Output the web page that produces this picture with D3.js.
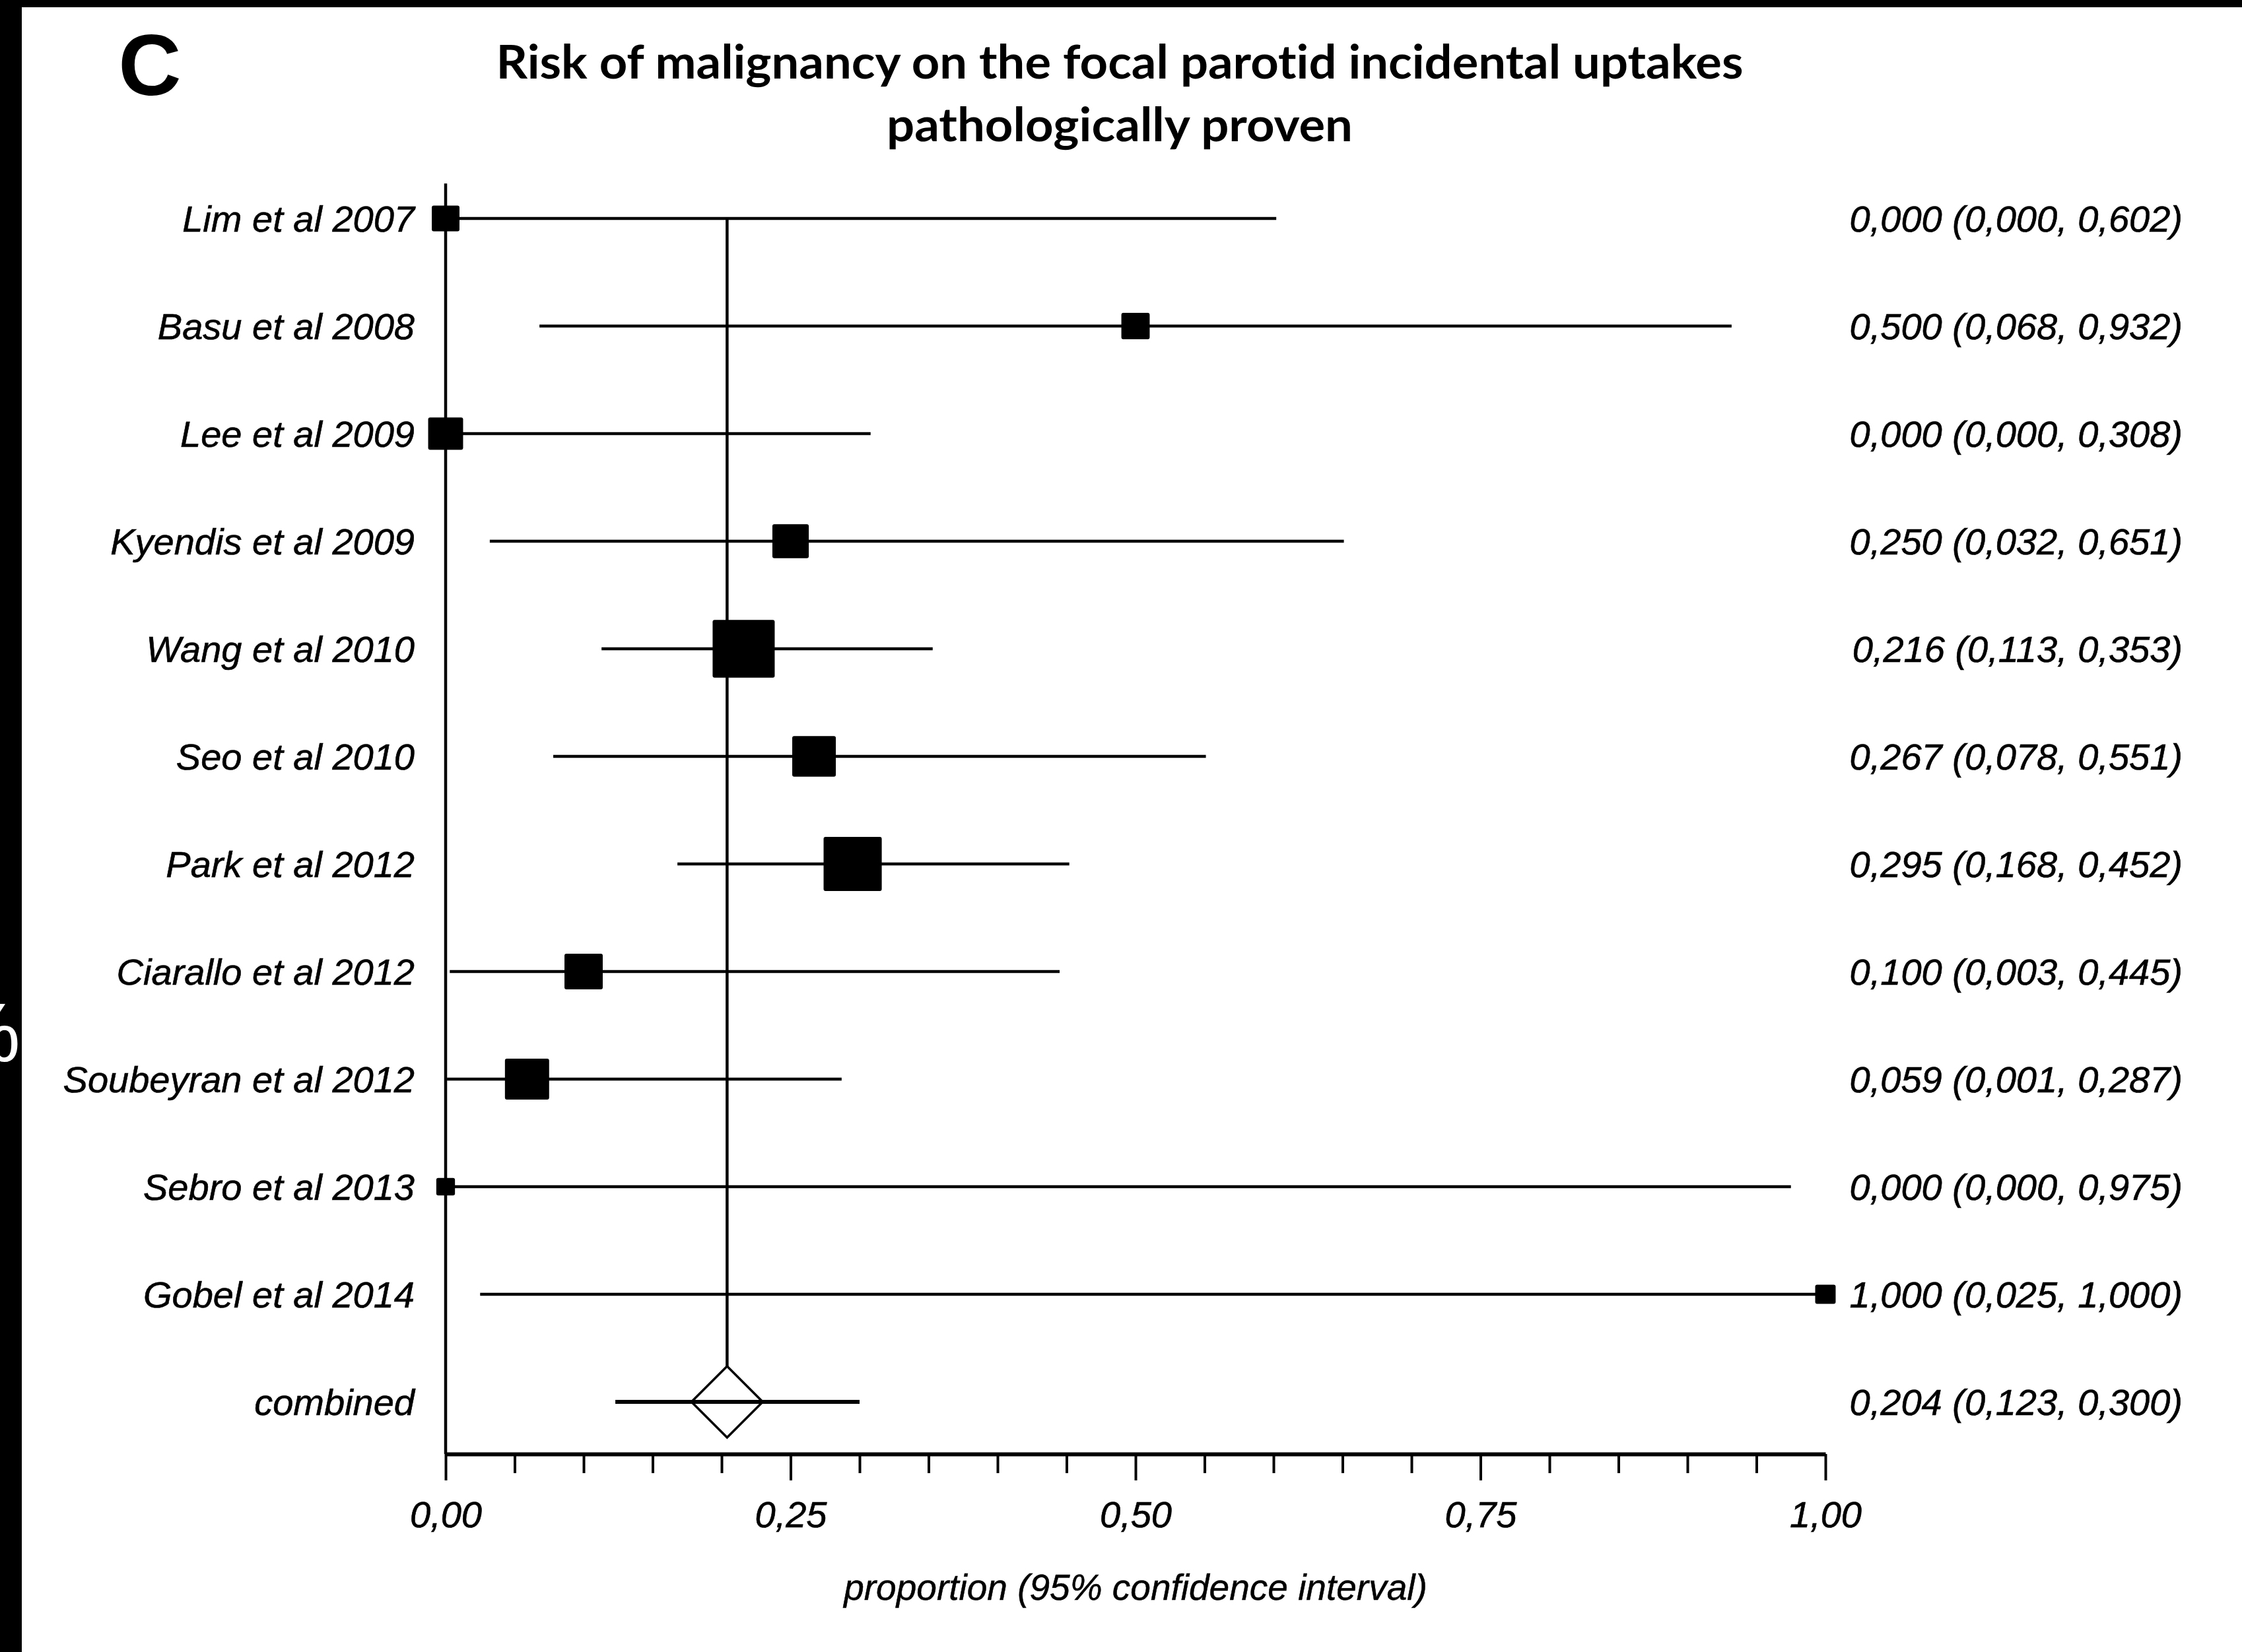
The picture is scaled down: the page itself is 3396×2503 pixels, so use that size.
<!DOCTYPE html>
<html>
<head>
<meta charset="utf-8">
<script src="https://cdn.jsdelivr.net/npm/d3@7"></script>
<style>
  html, body { margin: 0; padding: 0; background: #fff; }
  svg { display: block; }
  text { font-variant-ligatures: none; font-feature-settings: "liga" 0, "clig" 0; }
</style>
</head>
<body>
<script>
// ---------------- data ----------------
const studies = ["Lim et al 2007", "Basu et al 2008", "Lee et al 2009", "Kyendis et al 2009",
  "Wang et al 2010", "Seo et al 2010", "Park et al 2012", "Ciarallo et al 2012",
  "Soubeyran et al 2012", "Sebro et al 2013", "Gobel et al 2014"];
const estimates = [0.000, 0.500, 0.000, 0.250, 0.216, 0.267, 0.295, 0.100, 0.059, 0.000, 1.000];
const lowerCI   = [0.000, 0.068, 0.000, 0.032, 0.113, 0.078, 0.168, 0.003, 0.001, 0.000, 0.025];
const upperCI   = [0.602, 0.932, 0.308, 0.651, 0.353, 0.551, 0.452, 0.445, 0.287, 0.975, 1.000];
const weights   = [4.4, 4.6, 7.0, 7.6, 22.1, 10.9, 19.4, 8.4, 11.2, 2.0, 2.4]; // relative weight (%)
const pooledLabel = "combined";
const pooled = [0.204, 0.123, 0.300]; // estimate, lower, upper
const majorTicks = [0, 0.25, 0.5, 0.75, 1];
const majorTickLabels = ["0,00", "0,25", "0,50", "0,75", "1,00"];
const minorStep = 0.05;
const panelLetter = "C";
const titleLines = ["Risk of malignancy on the focal parotid incidental uptakes", "pathologically proven"];
const xAxisTitle = "proportion (95% confidence interval)";

// ---------------- layout ----------------
const W = 3396, H = 2503;
const svg = d3.select("body").append("svg").attr("width", W).attr("height", H);
svg.append("rect").attr("width", W).attr("height", H).attr("fill", "#fff");

const rows = studies.concat([pooledLabel]);
const x = d3.scaleLinear().domain([0, 1]).range([675, 2765]);
const y = d3.scalePoint().domain(rows).range([331, 2124]).padding(0);
const size = d3.scaleSqrt().domain([0, 25]).range([0, 100]);
const axisY = 2203;
const fmt = v => d3.format(".3f")(v).replace(".", ",");

const labelFont = "'Liberation Sans', Arial, sans-serif";

// black frame pieces (scan border)
svg.append("rect").attr("x", 0).attr("y", 0).attr("width", W).attr("height", 11).attr("fill", "#000");
svg.append("rect").attr("x", 0).attr("y", 0).attr("width", 33).attr("height", H).attr("fill", "#000");
// fragment of neighbouring panel text in the black strip
const defs = svg.append("defs");
defs.append("clipPath").attr("id", "stripClip").append("rect")
  .attr("x", 0).attr("y", 0).attr("width", 33).attr("height", H);
svg.append("text").attr("clip-path", "url(#stripClip)")
  .attr("x", 31).attr("y", 1608).attr("text-anchor", "end")
  .attr("font-family", labelFont).attr("font-size", 127).attr("fill", "#fff")
  .text("%");

// panel letter
svg.append("text").attr("x", 227).attr("y", 144).attr("text-anchor", "middle")
  .attr("font-family", labelFont).attr("font-weight", "bold").attr("font-size", 132)
  .attr("fill", "#000").text(panelLetter);

// title
const titleWidths = [1889, 706];
const titleBase = [119, 214];
titleLines.forEach((t, i) => {
  svg.append("text").attr("x", 1696).attr("y", titleBase[i]).attr("text-anchor", "middle")
    .attr("font-family", "Lato, 'Open Sans', sans-serif").attr("font-weight", 700)
    .attr("font-size", 70).attr("fill", "#000")
    .attr("textLength", titleWidths[i]).attr("lengthAdjust", "spacingAndGlyphs")
    .text(t);
});

const g = svg.append("g");
const lw = 4.5;

// left vertical line (x = 0)
g.append("line").attr("x1", x(0)).attr("x2", x(0))
  .attr("y1", y(rows[0]) - 53).attr("y2", axisY)
  .attr("stroke", "#000").attr("stroke-width", lw);

// reference line at pooled estimate
g.append("line").attr("x1", x(pooled[0])).attr("x2", x(pooled[0]))
  .attr("y1", y(rows[0])).attr("y2", y(pooledLabel) - 54)
  .attr("stroke", "#000").attr("stroke-width", lw);

// CI lines
const idx = d3.range(studies.length);
g.selectAll("line.ci").data(idx).join("line").attr("class", "ci")
  .attr("x1", i => x(lowerCI[i])).attr("x2", i => x(upperCI[i]))
  .attr("y1", i => y(studies[i])).attr("y2", i => y(studies[i]))
  .attr("stroke", "#000").attr("stroke-width", lw);

// squares
g.selectAll("rect.sq").data(idx).join("rect").attr("class", "sq")
  .attr("x", i => x(estimates[i]) - size(weights[i]) / 2)
  .attr("y", i => y(studies[i]) - size(weights[i]) * 0.93 / 2)
  .attr("width", i => size(weights[i]))
  .attr("height", i => size(weights[i]) * 0.93)
  .attr("rx", 3)
  .attr("fill", "#000");

// pooled CI + diamond
const py = y(pooledLabel);
g.append("line").attr("x1", x(pooled[1])).attr("x2", x(pooled[2]))
  .attr("y1", py).attr("y2", py).attr("stroke", "#000").attr("stroke-width", 6);
const px = x(pooled[0]);
g.append("path")
  .attr("d", `M${px},${py - 54}L${px + 54},${py}L${px},${py + 54}L${px - 54},${py}Z`)
  .attr("fill", "none").attr("stroke", "#000").attr("stroke-width", 3.5);

// row labels
g.selectAll("text.lab").data(rows).join("text").attr("class", "lab")
  .attr("x", 628).attr("y", d => y(d) + 20).attr("text-anchor", "end")
  .attr("font-family", labelFont).attr("font-style", "italic").attr("font-size", 56)
  .attr("fill", "#000").attr("stroke", "#000").attr("stroke-width", 0.6)
  .text(d => d);

// right column values
const rightTexts = idx.map(i => `${fmt(estimates[i])} (${fmt(lowerCI[i])}, ${fmt(upperCI[i])})`)
  .concat([`${fmt(pooled[0])} (${fmt(pooled[1])}, ${fmt(pooled[2])})`]);
g.selectAll("text.val").data(rows).join("text").attr("class", "val")
  .attr("x", 3306).attr("y", d => y(d) + 20).attr("text-anchor", "end")
  .attr("font-family", labelFont).attr("font-style", "italic").attr("font-size", 56)
  .attr("fill", "#000").attr("stroke", "#000").attr("stroke-width", 0.6)
  .text((d, i) => rightTexts[i]);

// axes
const minorVals = d3.range(0, 1 + 1e-9, minorStep).filter(v => !majorTicks.some(m => Math.abs(m - v) < 1e-9));
const minorAxis = d3.axisBottom(x).tickValues(minorVals).tickSize(29).tickSizeOuter(0).tickFormat("");
const majorAxis = d3.axisBottom(x).tickValues(majorTicks).tickSize(40).tickSizeOuter(0)
  .tickFormat((d, i) => majorTickLabels[i]);

const ga = g.append("g").attr("transform", `translate(0,${axisY})`).call(minorAxis);
ga.select(".domain").remove();
ga.selectAll("line").attr("stroke", "#000").attr("stroke-width", 4);

const gm = g.append("g").attr("transform", `translate(0,${axisY})`).call(majorAxis);
gm.select(".domain").attr("stroke", "#000").attr("stroke-width", 6);
gm.selectAll(".tick line").attr("stroke", "#000").attr("stroke-width", 4);
gm.selectAll(".tick text").attr("y", 111).attr("dy", 0)
  .attr("font-family", labelFont).attr("font-style", "italic").attr("font-size", 56)
  .attr("fill", "#000").attr("stroke", "#000").attr("stroke-width", 0.6);

// x axis title
g.append("text").attr("x", (x(0) + x(1)) / 2).attr("y", 2424).attr("text-anchor", "middle")
  .attr("font-family", labelFont).attr("font-style", "italic").attr("font-size", 55)
  .attr("fill", "#000").attr("stroke", "#000").attr("stroke-width", 0.5)
  .text(xAxisTitle);
</script>
</body>
</html>
